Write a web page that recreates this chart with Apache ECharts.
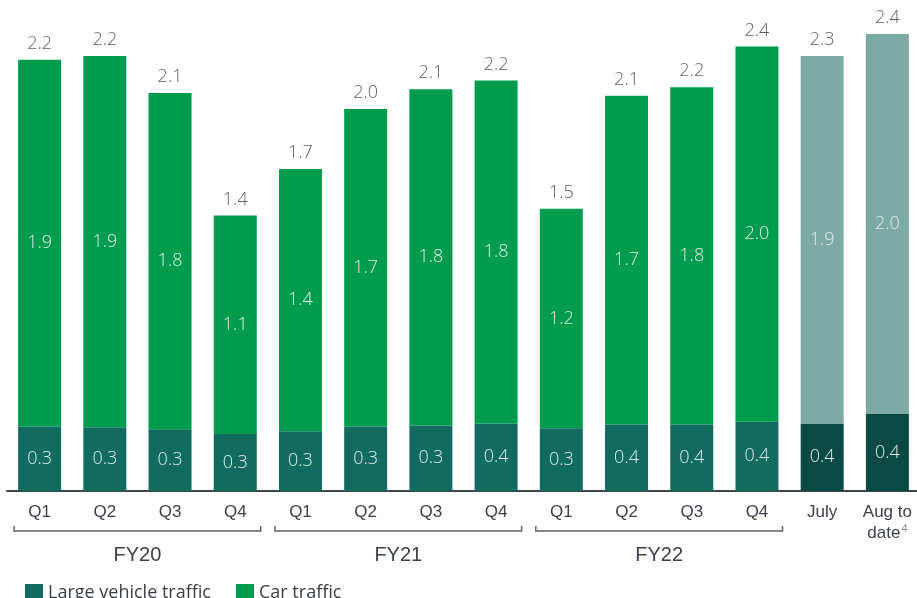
<!DOCTYPE html>
<html>
<head>
<meta charset="utf-8">
<script src="https://cdn.jsdelivr.net/npm/echarts@6/dist/echarts.min.js"></script>
<style>
html,body{margin:0;padding:0;background:#fff;overflow:hidden;}
#main{width:926px;height:598px;}
</style>
</head>
<body>
<div id="main"></div>
<script>
// ---- data ----
const categories = ['Q1','Q2','Q3','Q4','Q1','Q2','Q3','Q4','Q1','Q2','Q3','Q4','July','Aug to date'];
const largeVehicle = [0.34,0.335,0.325,0.30,0.315,0.34,0.345,0.355,0.33,0.35,0.35,0.365,0.355,0.405];
const carTraffic   = [1.93,1.955,1.77,1.15,1.38,1.67,1.77,1.805,1.155,1.73,1.775,1.975,1.935,2.0];
const largeLabels  = ['0.3','0.3','0.3','0.3','0.3','0.3','0.3','0.4','0.3','0.4','0.4','0.4','0.4','0.4'];
const carLabels    = ['1.9','1.9','1.8','1.1','1.4','1.7','1.8','1.8','1.2','1.7','1.8','2.0','1.9','2.0'];
const totalLabels  = ['2.2','2.2','2.1','1.4','1.7','2.0','2.1','2.2','1.5','2.1','2.2','2.4','2.3','2.4'];
const groupNames = ['FY20','FY21','FY22'];
const groupStart = [0,4,8];
const groupEnd   = [3,7,11];
const forecastFrom = 12; // July and Aug to date drawn in muted colours

const C_LARGE = '#116b61', C_CAR = '#009c4e';
const C_LARGE2 = '#0a4a42', C_CAR2 = '#7eaaa5';

const chart = echarts.init(document.getElementById('main'), null, {renderer:'canvas'});

const lightLabel = {
  show:true, position:'inside', color:'#dfece9', fontSize:18,
  fontFamily:'Open Sans', fontWeight:300
};

chart.setOption({
  animation:false,
  grid:{left:7, width:913, top:16, bottom:107, containLabel:false},
  legend:{
    data:['Large vehicle traffic','Car traffic'],
    left:20, top:579, icon:'rect', itemWidth:18, itemHeight:18, itemGap:25,
    textStyle:{fontFamily:'Open Sans', fontSize:18, color:'#3a3f45'}
  },
  xAxis:{
    type:'category', data:categories,
    axisLine:{lineStyle:{color:'#3d4650', width:2}},
    axisTick:{show:false},
    axisLabel:{
      interval:0, margin:11, color:'#3b4049', fontFamily:'Liberation Sans', fontSize:17,
      lineHeight:21,
      formatter:function(v){
        if(v==='Aug to date') return '{a|Aug to}\n{a|date}{s|4}';
        return v;
      },
      rich:{
        a:{fontFamily:'Liberation Sans', fontSize:17, color:'#3b4049', lineHeight:21},
        s:{fontFamily:'Liberation Sans', fontSize:11, color:'#8a8f94', verticalAlign:'top', lineHeight:21, padding:[0,0,10,1]}
      }
    }
  },
  yAxis:{type:'value', min:0, max:2.5, show:false, splitLine:{show:false}},
  series:[
    {
      name:'Large vehicle traffic', type:'bar', stack:'t', barWidth:43,
      itemStyle:{color:C_LARGE},
      data:largeVehicle.map((v,i)=>({value:v, itemStyle:{color: i>=forecastFrom?C_LARGE2:C_LARGE}})),
      label:Object.assign({}, lightLabel, {formatter:p=>largeLabels[p.dataIndex]})
    },
    {
      name:'Car traffic', type:'bar', stack:'t', barWidth:43,
      itemStyle:{color:C_CAR},
      data:carTraffic.map((v,i)=>({value:v, itemStyle:{color: i>=forecastFrom?C_CAR2:C_CAR}})),
      label:Object.assign({}, lightLabel, {formatter:p=>carLabels[p.dataIndex]})
    },
    {
      name:'Total', type:'bar', stack:'t', barWidth:43,
      data:categories.map(()=>0),
      itemStyle:{color:'transparent'},
      label:{show:true, position:'top', distance:7, color:'#5b6168', fontSize:18,
        fontFamily:'Open Sans', fontWeight:300, formatter:p=>totalLabels[p.dataIndex]}
    }
  ]
});

// group brackets under the axis, positioned from the category scale
const g = [];
const half = 43/2 + 4;
const yLine = 531, tick = 5;
groupNames.forEach((name, k)=>{
  const x1 = chart.convertToPixel({xAxisIndex:0}, groupStart[k]) - half;
  const x2 = chart.convertToPixel({xAxisIndex:0}, groupEnd[k]) + half;
  g.push({
    type:'polyline', silent:true,
    shape:{points:[[x1,yLine-tick],[x1,yLine],[x2,yLine],[x2,yLine-tick]]},
    style:{stroke:'#5a6169', lineWidth:1.5, fill:null}
  });
  g.push({
    type:'text', silent:true, x:(x1+x2)/2, y:555,
    style:{text:name, fill:'#3b4049', font:'20px "Liberation Sans"', align:'center', verticalAlign:'middle'}
  });
});
chart.setOption({graphic:g});
</script>
</body>
</html>
